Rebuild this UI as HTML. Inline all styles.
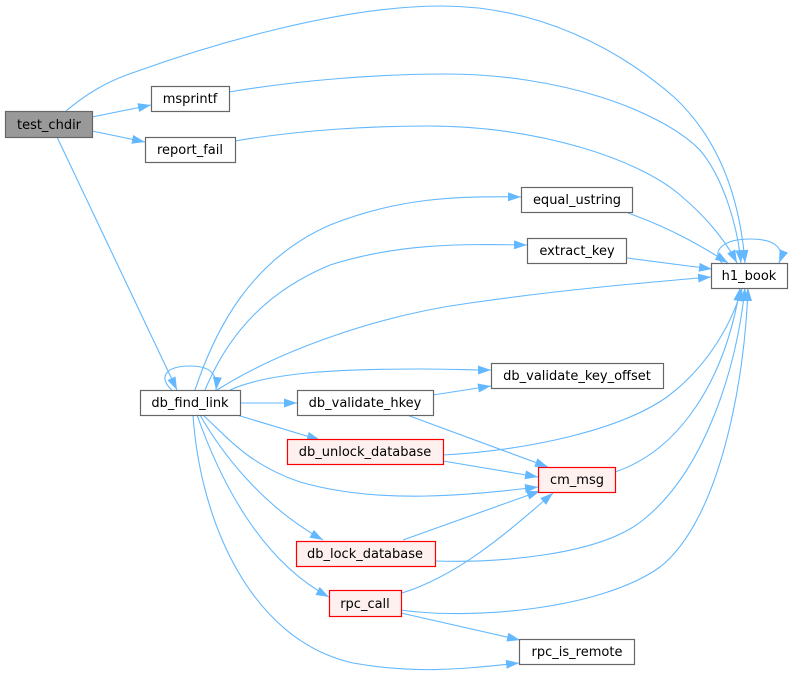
<!DOCTYPE html>
<html><head><meta charset="utf-8"><style>
html,body{margin:0;padding:0;background:#fff;}
svg{display:block;}
text{font-family:"DejaVu Sans","Liberation Sans",sans-serif;font-size:13px;fill:#000;}
</style></head><body>
<svg width="793" height="675" viewBox="0 0 793 675" xmlns="http://www.w3.org/2000/svg">
<defs>
<marker id="a" markerUnits="userSpaceOnUse" markerWidth="14" markerHeight="10" refX="13" refY="4.5" orient="auto">
<path d="M0,0 L13,4.5 L0,9 z" fill="#63b8ff"/>
</marker>
</defs>
<g fill="none" stroke="#63b8ff" stroke-width="1.1" marker-end="url(#a)">
<path d="M66,111 C85,95 105,82 135,72 C210,45 340,6 441,6 C540,6 620,50 674,97 C720,140 740,200 745,263"/>
<path d="M229,92 C300,80 380,74 445,74 C560,74 660,110 700,150 C725,180 738,230 741,263"/>
<path d="M235,141 C300,130 370,126 427,126 C540,126 640,160 680,195 C710,220 728,245 737,263"/>
<path d="M92,117 L151,105"/>
<path d="M92,131 L145,142"/>
<path d="M57,137 L177,390"/>
<path d="M172,390 C158,378 165,366 190,366 C208,366 218,372 216,390"/>
<path d="M195,390 C215,330 250,260 330,225 C400,197 460,196 521,197"/>
<path d="M205,390 C230,330 270,290 330,265 C400,243 460,244 527,245"/>
<path d="M217,390 C280,350 380,315 470,303 C560,290 640,283 711,277"/>
<path d="M230,390 C270,372 340,369 420,369 C450,369 470,370 491,370"/>
<path d="M240,403 L297,403"/>
<path d="M433,395 L491,386"/>
<path d="M407,415 L548,467"/>
<path d="M237,415 L320,440"/>
<path d="M443,455 C530,450 620,430 667,397 C710,365 733,320 742,288"/>
<path d="M443,461 L538,477"/>
<path d="M203,415 C230,440 250,465 300,482 C380,505 470,495 538,487"/>
<path d="M403,540 L540,491"/>
<path d="M435,561 C500,563 600,555 643,520 C700,475 735,380 745,288"/>
<path d="M200,415 C220,450 260,505 323,540"/>
<path d="M197,415 C220,480 260,560 329,597"/>
<path d="M193,415 C200,520 250,640 353,663 C420,675 470,668 519,663"/>
<path d="M402,593 C460,575 510,530 553,493"/>
<path d="M401,610 C470,620 600,610 660,567 C720,520 745,380 748,288"/>
<path d="M401,613 L520,640"/>
<path d="M615,472 C680,450 725,380 740,288"/>
<path d="M628,213 C670,228 700,245 728,263"/>
<path d="M627,258 L712,269"/>
<path d="M722,263 C710,250 725,239 750,239 C775,239 785,248 779,263"/>
</g>
<g stroke-width="1.2">
<rect x="5.5" y="111.5" width="87" height="26" fill="#999999" stroke="#666666"/>
<rect x="151.5" y="86.5" width="78" height="25" fill="#fff" stroke="#666666"/>
<rect x="145.5" y="137.5" width="90" height="25" fill="#fff" stroke="#666666"/>
<rect x="711.5" y="263.5" width="76" height="25" fill="#fff" stroke="#666666"/>
<rect x="521.5" y="187.5" width="111" height="25" fill="#fff" stroke="#666666"/>
<rect x="527.5" y="238.5" width="99" height="25" fill="#fff" stroke="#666666"/>
<rect x="140.5" y="390.5" width="100" height="25" fill="#fff" stroke="#666666"/>
<rect x="491.5" y="363.5" width="172" height="25" fill="#fff" stroke="#666666"/>
<rect x="297.5" y="390.5" width="136" height="25" fill="#fff" stroke="#666666"/>
<rect x="287.5" y="439.5" width="156" height="25" fill="#fff0f0" stroke="#ff0000"/>
<rect x="538.5" y="467.5" width="77" height="25" fill="#fff0f0" stroke="#ff0000"/>
<rect x="296.5" y="541.5" width="139" height="25" fill="#fff0f0" stroke="#ff0000"/>
<rect x="329.5" y="590.5" width="72" height="26" fill="#fff0f0" stroke="#ff0000"/>
<rect x="519.5" y="639.5" width="115" height="25" fill="#fff" stroke="#666666"/>
</g>
<g text-anchor="middle">
<text x="49" y="129">test_chdir</text>
<text x="190" y="103">msprintf</text>
<text x="190" y="154">report_fail</text>
<text x="749" y="280">h1_book</text>
<text x="577" y="204">equal_ustring</text>
<text x="577" y="255">extract_key</text>
<text x="190" y="407">db_find_link</text>
<text x="577" y="380">db_validate_key_offset</text>
<text x="365" y="407">db_validate_hkey</text>
<text x="365" y="456">db_unlock_database</text>
<text x="577" y="484">cm_msg</text>
<text x="365" y="558">db_lock_database</text>
<text x="365" y="608">rpc_call</text>
<text x="577" y="656">rpc_is_remote</text>
</g>
</svg>
</body></html>
